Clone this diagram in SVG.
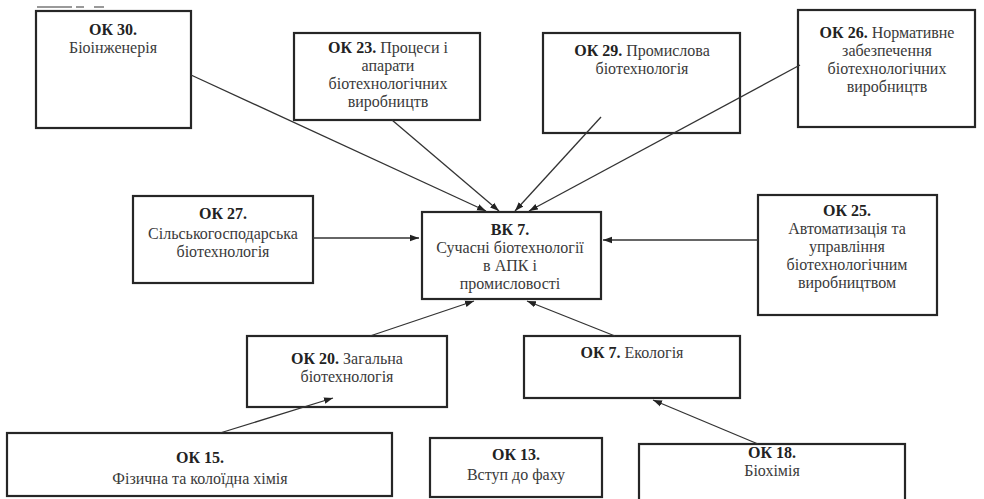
<svg xmlns="http://www.w3.org/2000/svg" width="984" height="499" viewBox="0 0 984 499">
<style>
.box{fill:#fff;stroke:#262626;stroke-width:2.2}
.t{font-family:"Liberation Serif","Noto Serif","DejaVu Serif",serif;font-size:16px;fill:#3a3a3a;text-anchor:middle}
.b{font-weight:bold;fill:#222}
.c{stroke:#333;stroke-width:1.3;fill:none}
</style>
<defs>
<marker id="ah" markerUnits="userSpaceOnUse" markerWidth="10" markerHeight="8" refX="9" refY="4" orient="auto">
<path d="M0,0.8 L9,4 L0,7.2 Z" fill="#222"/>
</marker>
</defs>
<rect width="984" height="499" fill="#fff"/>
<g id="artifact" stroke="#777" stroke-width="1.5">
<line x1="37" y1="7" x2="72" y2="7"/><line x1="76" y1="7" x2="84" y2="7"/><line x1="94" y1="7" x2="104" y2="7"/>
</g>
<g id="ok30">
<rect class="box" x="36" y="11" width="155" height="117"/>
<text class="t" x="113" y="35"><tspan class="b">ОК 30.</tspan></text>
<text class="t" x="113" y="53">Біоінженерія</text>
</g>
<g id="ok23">
<rect class="box" x="294" y="33" width="186" height="87"/>
<text class="t" x="388" y="53"><tspan class="b">ОК 23.</tspan> Процеси і</text>
<text class="t" x="388" y="71">апарати</text>
<text class="t" x="388" y="89">біотехнологічних</text>
<text class="t" x="388" y="107">виробництв</text>
</g>
<g id="ok29">
<rect class="box" x="543" y="33" width="197" height="100"/>
<text class="t" x="642" y="56"><tspan class="b">ОК 29.</tspan> Промислова</text>
<text class="t" x="642" y="74">біотехнологія</text>
</g>
<g id="ok26">
<rect class="box" x="798" y="10" width="177" height="117"/>
<text class="t" x="887" y="38"><tspan class="b">ОК 26.</tspan> Нормативне</text>
<text class="t" x="887" y="56">забезпечення</text>
<text class="t" x="887" y="74">біотехнологічних</text>
<text class="t" x="887" y="92">виробництв</text>
</g>
<g id="ok27">
<rect class="box" x="133" y="196" width="180" height="87"/>
<text class="t" x="223" y="219"><tspan class="b">ОК 27.</tspan></text>
<text class="t" x="223" y="239">Сільськогосподарська</text>
<text class="t" x="223" y="257">біотехнологія</text>
</g>
<g id="vk7">
<rect class="box" x="422" y="212" width="179" height="87"/>
<text class="t" x="510" y="235"><tspan class="b">ВК 7.</tspan></text>
<text class="t" x="510" y="253">Сучасні біотехнології</text>
<text class="t" x="510" y="271">в АПК і</text>
<text class="t" x="510" y="289">промисловості</text>
</g>
<g id="ok25">
<rect class="box" x="758" y="195" width="179" height="120"/>
<text class="t" x="847" y="216"><tspan class="b">ОК 25.</tspan></text>
<text class="t" x="847" y="234">Автоматизація та</text>
<text class="t" x="847" y="252">управління</text>
<text class="t" x="847" y="270">біотехнологічним</text>
<text class="t" x="847" y="288">виробництвом</text>
</g>
<g id="ok20">
<rect class="box" x="247" y="336" width="200" height="71"/>
<text class="t" x="347" y="364"><tspan class="b">ОК 20.</tspan> Загальна</text>
<text class="t" x="347" y="382">біотехнологія</text>
</g>
<g id="ok7">
<rect class="box" x="524" y="336" width="216" height="62"/>
<text class="t" x="632" y="358"><tspan class="b">ОК 7.</tspan> Екологія</text>
</g>
<g id="ok15">
<rect class="box" x="7" y="433" width="385" height="63"/>
<text class="t" x="200" y="463"><tspan class="b">ОК 15.</tspan></text>
<text class="t" x="200" y="484">Фізична та колоїдна хімія</text>
</g>
<g id="ok13">
<rect class="box" x="430" y="438" width="172" height="59"/>
<text class="t" x="516" y="460"><tspan class="b">ОК 13.</tspan></text>
<text class="t" x="516" y="480">Вступ до фаху</text>
</g>
<g id="ok18">
<rect class="box" x="639" y="444" width="266" height="60"/>
<text class="t" x="772" y="458"><tspan class="b">ОК 18.</tspan></text>
<text class="t" x="772" y="476">Біохімія</text>
</g>
<g id="connectors">
<line class="c" x1="191" y1="75" x2="486" y2="211" marker-end="url(#ah)"/>
<line class="c" x1="392" y1="120" x2="499" y2="211" marker-end="url(#ah)"/>
<line class="c" x1="601" y1="117" x2="515" y2="211" marker-end="url(#ah)"/>
<line class="c" x1="800" y1="65" x2="529" y2="211" marker-end="url(#ah)"/>
<line class="c" x1="313" y1="238" x2="419" y2="238" marker-end="url(#ah)"/>
<line class="c" x1="758" y1="240" x2="603" y2="240" marker-end="url(#ah)"/>
<line class="c" x1="370" y1="336" x2="474" y2="301" marker-end="url(#ah)"/>
<line class="c" x1="615" y1="336" x2="527" y2="301" marker-end="url(#ah)"/>
<line class="c" x1="220" y1="433" x2="333" y2="398" marker-end="url(#ah)"/>
<line class="c" x1="758" y1="444" x2="653" y2="400" marker-end="url(#ah)"/>
</g>
</svg>
